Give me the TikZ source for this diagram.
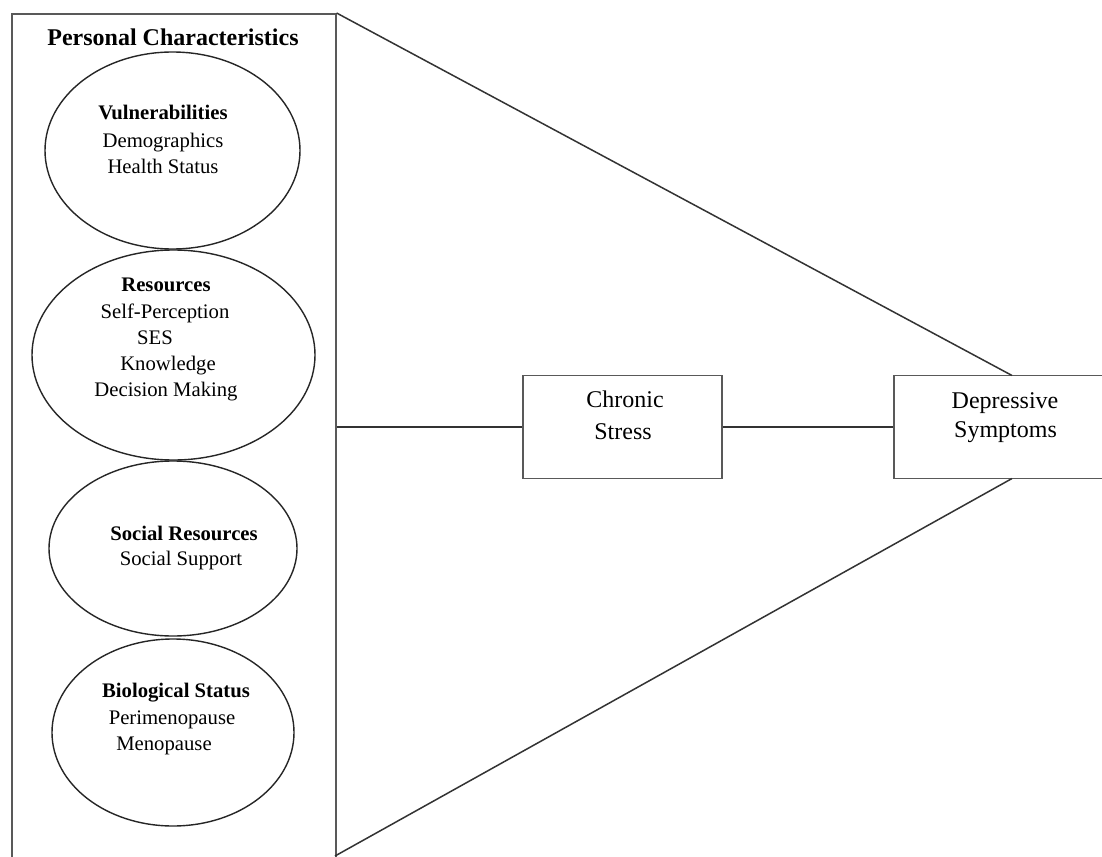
\documentclass[tikz,border=0pt]{standalone}
\usepackage{fontspec}
\setmainfont{Liberation Serif}
\usetikzlibrary{shapes.geometric}
\tikzset{
  ell/.style={draw=black!85, ellipse, inner sep=0pt, line width=1.4pt},
  rbox/.style={draw=black!65, rectangle, inner sep=0pt, line width=1.6pt},
  conn/.style={draw=black!80, line width=1.5pt},
  txt/.style={anchor=base, inner sep=0pt, font=\fontsize{20.7}{25}\selectfont},
  btxt/.style={anchor=base, inner sep=0pt, font=\bfseries\fontsize{20.7}{25}\selectfont},
  bigtxt/.style={anchor=base, inner sep=0pt, font=\fontsize{24}{28}\selectfont},
}
\begin{document}
\begin{tikzpicture}[x=1pt,y=-1pt]
\useasboundingbox (0,0) rectangle (1102,856);
\fill[white] (0,0) rectangle (1102,856);

% outer box
\node[rbox, anchor=north west, minimum width=324pt, minimum height=880pt] (pc) at (11,13) {};
\node[anchor=base, inner sep=0pt, font=\bfseries\fontsize{24}{28}\selectfont] (title) at (173,46) {Personal Characteristics};

% ellipses
\node[ell, minimum width=255pt, minimum height=197pt] (vul) at (172.5,150.5) {};
\node[btxt] (vul1) at (163,120) {Vulnerabilities};
\node[txt] (vul2) at (163,147) {Demographics};
\node[txt] (vul3) at (163,173) {Health Status};

\node[ell, minimum width=283pt, minimum height=210pt] (res) at (173.5,355) {};
\node[btxt] (res1) at (166,291) {Resources};
\node[txt] (res2) at (165,318) {Self-Perception};
\node[txt] (res3) at (155,344) {SES};
\node[txt] (res4) at (168,370) {Knowledge};
\node[txt] (res5) at (166,396) {Decision Making};

\node[ell, minimum width=248pt, minimum height=175pt] (soc) at (173,548.5) {};
\node[btxt] (soc1) at (184,540) {Social Resources};
\node[txt] (soc2) at (181,565) {Social Support};

\node[ell, minimum width=242pt, minimum height=187pt] (bio) at (173,732.5) {};
\node[btxt] (bio1) at (176,697) {Biological Status};
\node[txt] (bio2) at (172,724) {Perimenopause};
\node[txt] (bio3) at (164,750) {Menopause};

% boxes
\node[rbox, minimum width=199pt, minimum height=103pt] (cs) at (622.5,427) {};
\node[bigtxt] (cs1) at (625,407) {Chronic};
\node[bigtxt] (cs2) at (623,439) {Stress};

\node[rbox, minimum width=222pt, minimum height=103pt] (ds) at (1005,427) {};
\node[bigtxt] (ds1) at (1005,408) {Depressive};
\node[bigtxt] (ds2) at (1005.5,437) {Symptoms};

% connectors
\coordinate (dtop) at (1012,375.5);
\coordinate (dbot) at (1012,478.5);
\coordinate (pcb) at (335,856);
\draw[conn] (pc.east |- cs.west) -- (cs.west);
\draw[conn] (cs.east) -- (ds.west);
\draw[conn] (pc.north east) -- (dtop);
\draw[conn] (pcb) -- (dbot);
\end{tikzpicture}
\end{document}
